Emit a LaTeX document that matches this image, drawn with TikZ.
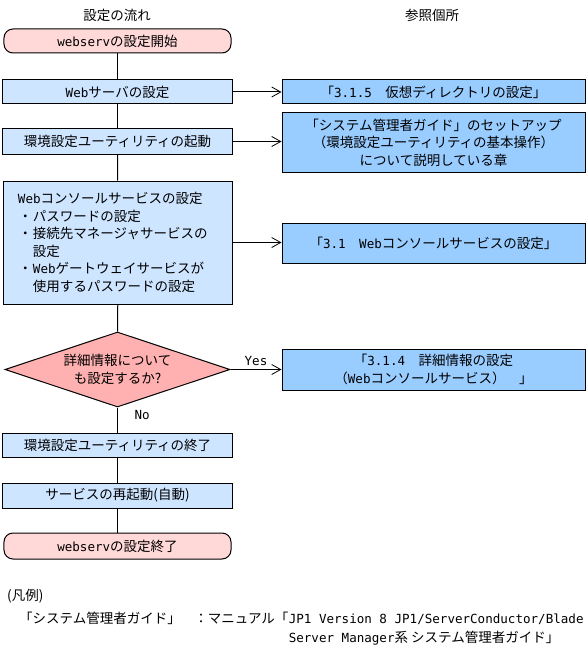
\documentclass[tikz,border=0pt]{standalone}
\usepackage{fontspec}
\setmainfont{Noto Sans CJK JP}
\newfontfamily\latfont{DejaVu Sans Mono}[Scale=0.93]
\newcommand{\lat}[1]{{\latfont #1}}
\usepackage{tikz}
\usetikzlibrary{arrows.meta,shapes.geometric}

\definecolor{boxblue}{RGB}{206,229,255}
\definecolor{refblue}{RGB}{153,204,255}
\definecolor{termpink}{RGB}{255,216,216}
\definecolor{decpink}{RGB}{255,176,176}

\tikzset{
    txt/.style={font=\fontsize{13.5bp}{17.5bp}\selectfont},
    flowbox/.style={txt, draw, line width=1bp, fill=boxblue, minimum width=229bp, inner sep=0pt, align=center},
    refbox/.style={txt, draw, line width=1bp, fill=refblue, minimum width=303bp, inner sep=0pt, align=center},
    termbox/.style={txt, draw, line width=1bp, fill=termpink, rounded corners=9bp, minimum width=227bp, inner sep=0pt},
    decbox/.style={txt, draw, line width=1bp, fill=decpink, diamond, aspect=3, inner sep=0pt, minimum width=225bp, minimum height=75bp, align=center},
    flow/.style={line width=1bp},
    refarrow/.style={line width=1bp, -{Straight Barb[length=9bp,width=10bp,line width=0.8bp]}}
}

\begin{document}
\begin{tikzpicture}[x=1bp,y=-1bp]
\useasboundingbox (0,0) rectangle (588,663);

% Ueberschriften
\node[txt] (head1) at (117,15) {設定の流れ};
\node[txt] (head2) at (432,15) {参照個所};

% Ablauf (links)
\node[termbox, minimum height=24bp] (start) at (117.5,41) {\lat{webserv}の設定開始};
\node[flowbox, minimum height=24bp] (web) at (117.5,92) {\lat{Web}サーバの設定};
\node[flowbox, minimum height=25bp] (util) at (117.5,141.5) {環境設定ユーティリティの起動};
\node[flowbox, minimum height=123bp, text width=200bp, align=left] (console) at (118,242.5)
    {\lat{Web}コンソールサービスの設定\\
     \makebox[15bp][c]{・}パスワードの設定\\
     \makebox[15bp][c]{・}接続先マネージャサービスの\\
     \hspace*{15bp}設定\\
     \makebox[15bp][c]{・}\lat{Web}ゲートウェイサービスが\\
     \hspace*{15bp}使用するパスワードの設定};
\node[decbox] (dec) at (117.5,369.5) {詳細情報について\\も設定するか?};
\node[flowbox, minimum height=24bp] (quit) at (117.5,445) {環境設定ユーティリティの終了};
\node[flowbox, minimum height=25bp] (restart) at (117.5,495.5) {サービスの再起動(自動)};
\node[termbox, minimum height=26bp] (stop) at (117.5,546) {\lat{webserv}の設定終了};

\foreach \a/\b in {start/web, web/util, util/console, console/dec, dec/quit, quit/restart, restart/stop}
    \draw[flow] (\a) -- (\b);
\node[txt, anchor=west] (no) at (131,415) {\lat{No}};

% Verweise (rechts)
\node[refbox, minimum height=24bp] (ref1) at (433.5,92) {「\lat{3.1.5}\quad 仮想ディレクトリの設定」};
\node[refbox, minimum height=59bp] (ref2) at (433.5,142.5)
    {「システム管理者ガイド」のセットアップ\\（環境設定ユーティリティの基本操作）\\について説明している章};
\node[refbox, minimum height=40bp] (ref3) at (433.5,243) {「\lat{3.1}\quad \lat{Web}コンソールサービスの設定」};
\node[refbox, minimum height=41bp] (ref4) at (433.5,369.5) {「\lat{3.1.4}\quad 詳細情報の設定\\（\lat{Web}コンソールサービス）\quad 」};

\draw[refarrow] (web) -- (ref1);
\draw[refarrow] (util.east) -- (util.east -| ref2.west);
\draw[refarrow] (console.east) -- (console.east -| ref3.west);
\draw[refarrow] (dec.east) -- node[txt, above] (yes) {\lat{Yes}} (dec.east -| ref4.west);

% Legende
\node[txt, anchor=west, inner sep=0pt] (legend) at (7,596) {(凡例)};
\node[txt, anchor=base west, inner sep=0pt] (legkey) at (19,623) {「システム管理者ガイド」　：マニュアル「};
\node[txt, anchor=base west, inner sep=0pt] (legval) at (legkey.base east) {\lat{JP1 Version 8 JP1/ServerConductor/Blade}};
\node[txt, anchor=base west, inner sep=0pt, yshift=-19bp] (legval2) at (legval.base west) {\lat{Server Manager}系 システム管理者ガイド」};

\end{tikzpicture}
\end{document}
